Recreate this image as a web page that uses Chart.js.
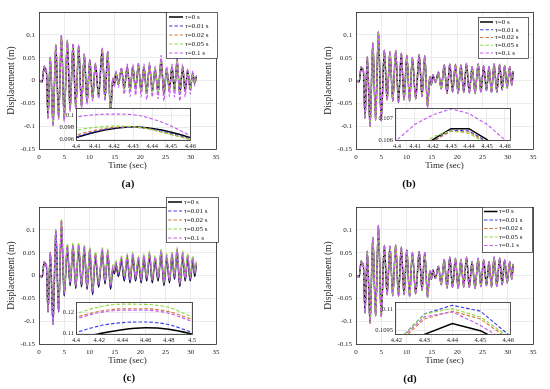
<!DOCTYPE html>
<html><head><meta charset="utf-8">
<script src="https://cdn.jsdelivr.net/npm/chart.js@4.4.1/dist/chart.umd.min.js"></script>
<style>
html,body{margin:0;padding:0;background:#fff;}
body{width:550px;height:389px;position:relative;overflow:hidden;font-family:"Liberation Serif",serif;}
canvas{position:absolute;}
.cap{position:absolute;font-weight:bold;font-size:11px;color:#111;transform:translate(-50%,-50%);white-space:nowrap;}
</style></head>
<body>
<script>
// ---------- DATA ----------
const tMain = [0,0.6,1.05,1.3,1.45,1.78,2.23,2.78,3.33,3.88,4.43,4.98,5.6,6.15,6.72,7.27,7.85,8.4,8.95,9.5,10.05,10.6,11.15,11.8,12.5,13.05,13.6,14.15,14.6,14.9,15.2,15.7,16.3,16.85,17.45,18.0,18.55,19.1,19.65,20.2,20.75,21.3,21.85,22.4,22.95,23.55,24.15,24.7,25.25,25.8,26.3,26.8,27.3,27.85,28.4,28.9,29.4,29.9,30.4,30.8,31.1];

// panel (a)
const a_tau0 = [0,-0.003,0.031,0.019,0.025,-0.082,0.051,-0.098,0.078,-0.082,0.098,-0.085,0.086,-0.064,0.079,-0.06,0.076,-0.058,0.057,-0.048,0.045,-0.04,0.036,-0.034,0.069,-0.04,0.063,-0.072,0.004,-0.01,0.018,-0.008,0.026,-0.018,0.03,-0.022,0.03,-0.02,0.034,-0.024,0.03,-0.028,0.034,-0.024,0.026,-0.026,0.046,-0.03,0.026,-0.02,0.03,-0.022,0.044,-0.03,0.03,-0.024,0.022,-0.02,0.016,-0.006,0.008];
const a_tau001 = a_tau0;
const a_tau002 = a_tau0;
const a_tau005 = a_tau0;
const a_tau01 = [0,-0.003,0.031,0.019,0.025,-0.084,0.051,-0.1,0.079,-0.085,0.1002,-0.09,0.089,-0.068,0.081,-0.063,0.078,-0.062,0.059,-0.052,0.047,-0.045,0.038,-0.04,0.071,-0.045,0.065,-0.08,0.006,-0.015,0.022,-0.015,0.029,-0.03,0.036,-0.035,0.036,-0.032,0.04,-0.036,0.036,-0.042,0.04,-0.036,0.031,-0.04,0.055,-0.045,0.031,-0.035,0.036,-0.036,0.052,-0.045,0.036,-0.036,0.026,-0.03,0.021,-0.012,0.012];

// panel (b)
const b_tau0 = [0,-0.003,0.03,0.02,0.025,-0.083,0.052,-0.1,0.082,-0.086,0.1065,-0.088,0.066,-0.042,0.063,-0.045,0.065,-0.048,0.06,-0.042,0.055,-0.045,0.05,-0.04,0.056,-0.035,0.054,-0.058,0.008,-0.01,0.012,-0.004,0.018,-0.018,0.034,-0.028,0.036,-0.025,0.035,-0.028,0.034,-0.026,0.037,-0.027,0.03,-0.028,0.036,-0.025,0.032,-0.022,0.03,-0.026,0.036,-0.025,0.035,-0.02,0.032,-0.016,0.03,-0.01,0.02];
const b_tau001 = b_tau0;
const b_tau002 = b_tau0;
const b_tau005 = b_tau0;
const b_tau01 = [0,-0.003,0.03,0.02,0.025,-0.084,0.052,-0.101,0.083,-0.087,0.1074,-0.089,0.067,-0.043,0.064,-0.046,0.066,-0.049,0.061,-0.043,0.056,-0.046,0.051,-0.041,0.057,-0.036,0.055,-0.059,0.009,-0.011,0.013,-0.005,0.019,-0.019,0.035,-0.029,0.037,-0.026,0.036,-0.029,0.035,-0.027,0.038,-0.028,0.031,-0.029,0.037,-0.026,0.033,-0.023,0.031,-0.027,0.037,-0.026,0.036,-0.021,0.033,-0.017,0.031,-0.011,0.021];

// panel (c)
const c_tau0 = [0,-0.003,0.03,0.02,0.025,-0.08,0.05,-0.107,0.097,-0.08,0.112,-0.045,0.06,-0.022,0.062,-0.028,0.062,-0.025,0.058,-0.03,0.052,-0.042,0.042,-0.025,0.052,-0.018,0.048,-0.03,0.014,0.004,0.024,-0.002,0.033,-0.012,0.038,-0.016,0.042,-0.012,0.034,-0.016,0.038,-0.012,0.043,-0.016,0.034,-0.012,0.048,-0.022,0.038,-0.016,0.043,-0.008,0.052,-0.024,0.044,-0.012,0.038,-0.012,0.033,-0.002,0.024];
const c_tau001 = [0,-0.003,0.03,0.02,0.025,-0.08,0.05,-0.107,0.098,-0.079,0.1155,-0.042,0.063,-0.019,0.065,-0.025,0.065,-0.022,0.061,-0.027,0.055,-0.039,0.045,-0.022,0.055,-0.015,0.051,-0.027,0.017,0.007,0.027,0.001,0.036,-0.009,0.041,-0.013,0.045,-0.009,0.037,-0.013,0.041,-0.009,0.046,-0.013,0.037,-0.009,0.051,-0.019,0.041,-0.013,0.046,-0.005,0.055,-0.021,0.047,-0.009,0.041,-0.009,0.036,0.001,0.027];
const c_tau002 = [0,-0.003,0.031,0.02,0.026,-0.079,0.051,-0.106,0.1,-0.077,0.1215,-0.038,0.067,-0.015,0.069,-0.021,0.069,-0.018,0.065,-0.023,0.059,-0.035,0.049,-0.018,0.059,-0.011,0.055,-0.023,0.021,0.011,0.031,0.005,0.04,-0.005,0.045,-0.009,0.049,-0.005,0.041,-0.009,0.045,-0.005,0.05,-0.009,0.041,-0.005,0.055,-0.015,0.045,-0.009,0.05,-0.001,0.059,-0.017,0.051,-0.005,0.045,-0.005,0.04,0.005,0.031];
const c_tau005 = [0,-0.003,0.031,0.02,0.026,-0.078,0.052,-0.105,0.101,-0.076,0.1241,-0.035,0.07,-0.012,0.072,-0.018,0.072,-0.015,0.068,-0.02,0.062,-0.032,0.052,-0.015,0.062,-0.008,0.058,-0.02,0.024,0.014,0.034,0.008,0.043,-0.002,0.048,-0.006,0.052,-0.002,0.044,-0.006,0.048,-0.002,0.053,-0.006,0.044,-0.002,0.058,-0.012,0.048,-0.006,0.053,0.002,0.062,-0.014,0.054,-0.002,0.048,-0.002,0.043,0.008,0.034];
const c_tau01 = [0,-0.003,0.031,0.02,0.026,-0.079,0.051,-0.106,0.1,-0.078,0.1208,-0.039,0.066,-0.016,0.068,-0.022,0.068,-0.019,0.064,-0.024,0.058,-0.036,0.048,-0.019,0.058,-0.012,0.054,-0.024,0.02,0.01,0.03,0.004,0.039,-0.006,0.044,-0.01,0.048,-0.006,0.04,-0.01,0.044,-0.006,0.049,-0.01,0.04,-0.006,0.054,-0.016,0.044,-0.01,0.049,-0.002,0.058,-0.018,0.05,-0.006,0.044,-0.006,0.039,0.004,0.03];

// panel (d)
const d_tau0 = [0,-0.003,0.032,0.021,0.026,-0.082,0.053,-0.104,0.083,-0.088,0.1097,-0.09,0.066,-0.042,0.064,-0.044,0.066,-0.045,0.062,-0.042,0.056,-0.046,0.05,-0.04,0.052,-0.032,0.05,-0.048,0.01,-0.008,0.012,-0.006,0.02,-0.02,0.035,-0.027,0.04,-0.026,0.037,-0.028,0.035,-0.025,0.04,-0.026,0.03,-0.028,0.037,-0.024,0.034,-0.022,0.03,-0.025,0.04,-0.024,0.038,-0.02,0.034,-0.016,0.03,-0.008,0.025];
const d_tau001 = d_tau0;
const d_tau002 = d_tau0;
const d_tau005 = d_tau0;
const d_tau01 = [0,-0.003,0.032,0.021,0.026,-0.083,0.053,-0.105,0.084,-0.089,0.11,-0.091,0.067,-0.043,0.065,-0.045,0.067,-0.046,0.063,-0.043,0.057,-0.047,0.051,-0.041,0.053,-0.033,0.051,-0.049,0.011,-0.009,0.013,-0.007,0.021,-0.021,0.036,-0.028,0.041,-0.027,0.038,-0.029,0.036,-0.026,0.041,-0.027,0.031,-0.029,0.038,-0.025,0.035,-0.023,0.031,-0.026,0.041,-0.025,0.039,-0.021,0.035,-0.017,0.031,-0.009,0.026];

// insets
const iA_t = [4.39,4.4,4.41,4.42,4.43,4.44,4.45,4.46,4.47];
const iA_tau0   = [0.0952,0.0963,0.0972,0.0978,0.0981,0.0978,0.0972,0.0963,0.0951];
const iA_tau001 = [0.0953,0.0964,0.0973,0.0979,0.0980,0.0977,0.0970,0.0961,0.0949];
const iA_tau002 = [0.0956,0.0967,0.0975,0.0980,0.0981,0.0976,0.0968,0.0960,0.0947];
const iA_tau005 = [0.0966,0.0975,0.0980,0.0982,0.0981,0.0976,0.0968,0.0959,0.0946];
const iA_tau01  = [0.0990,0.0997,0.1001,0.1002,0.1001,0.0994,0.0982,0.0966,0.0948];

const iB_t = [4.39,4.4,4.41,4.42,4.43,4.44,4.45,4.46,4.47];
const iB_tau0   = [0.1040,0.1047,0.1053,0.10602,0.10652,0.10652,0.10602,0.1052,0.1043];
const iB_tau001 = [0.1040,0.1046,0.1052,0.10595,0.10645,0.10642,0.10592,0.1051,0.1042];
const iB_tau002 = [0.1040,0.1046,0.1052,0.10594,0.10640,0.10637,0.10588,0.1050,0.1041];
const iB_tau005 = [0.1041,0.1048,0.1055,0.10615,0.10642,0.10630,0.10584,0.1050,0.1041];
const iB_tau01  = [0.1051,0.1060,0.10672,0.10715,0.10743,0.10721,0.10672,0.1060,0.1051];

const iC_t = [4.38,4.4,4.42,4.44,4.46,4.48,4.5,4.52];
const iC_tau0   = [0.1045,0.1075,0.1098,0.1118,0.1127,0.1120,0.1097,0.1065];
const iC_tau001 = [0.1068,0.1104,0.1136,0.1152,0.1155,0.1142,0.1105,0.1068];
const iC_tau002 = [0.1145,0.1178,0.1206,0.1219,0.1219,0.1205,0.1168,0.1128];
const iC_tau005 = [0.1160,0.1195,0.1228,0.1241,0.1240,0.1225,0.1180,0.1140];
const iC_tau01  = [0.1138,0.1170,0.1200,0.1212,0.1212,0.1197,0.1158,0.1118];

const iD_t = [4.41,4.42,4.43,4.44,4.45,4.46,4.47];
const iD_tau0   = [0.1085,0.10915,0.10940,0.10966,0.10949,0.10915,0.1085];
const iD_tau001 = [0.1086,0.1092,0.10989,0.11010,0.10996,0.10940,0.1088];
const iD_tau002 = [0.1085,0.10915,0.10977,0.10996,0.10977,0.10930,0.1086];
const iD_tau005 = [0.1086,0.1092,0.10989,0.11002,0.10982,0.10935,0.1087];
const iD_tau01  = [0.1085,0.1092,0.10982,0.10994,0.10962,0.10920,0.1085];

const legendLabels = ['τ=0 s','τ=0.01 s','τ=0.02 s','τ=0.05 s','τ=0.1 s'];
const mainYTicks = [-0.15,-0.1,-0.05,0,0.05,0.1];
const mainXTicks = [0,5,10,15,20,25,30,35];

// ---------- STYLE ----------
const FONT = '"Liberation Serif", "Times New Roman", serif';
const TXT = '#262626';
const GRID = '#e2e2e2';
const STY = [
  {color:'#000000', dash:[], width:1.5},
  {color:'#3c3ce6', dash:[3.5,2], width:1.15},
  {color:'#d67a3e', dash:[3.5,2], width:1.15},
  {color:'#8fdc45', dash:[3.5,2], width:1.15},
  {color:'#c35ef0', dash:[3.5,2], width:1.15}
];
Chart.defaults.font.family = FONT;

function fmt(v){ const s = +(+v).toFixed(5); return String(s === 0 ? 0 : s); }

function makeCanvas(x,y,w,h){
  const c = document.createElement('canvas');
  c.width = w; c.height = h;
  c.style.left = x+'px'; c.style.top = y+'px';
  c.style.width = w+'px'; c.style.height = h+'px';
  document.body.appendChild(c);
  return c;
}

const framePlugin = {id:'frame', afterDatasetsDraw(c){
  const {ctx, chartArea:a} = c;
  ctx.save(); ctx.strokeStyle = '#262626'; ctx.lineWidth = 0.8; ctx.setLineDash([]);
  ctx.strokeRect(Math.round(a.left)+0.5, Math.round(a.top)+0.5, Math.round(a.right-a.left), Math.round(a.bottom-a.top));
  ctx.restore();
}};
const whitePlugin = {id:'white', beforeDraw(c){
  const {ctx, chartArea:a} = c;
  ctx.save(); ctx.fillStyle = '#fff'; ctx.fillRect(a.left, a.top, a.right-a.left, a.bottom-a.top); ctx.restore();
}};
function legendPlugin(g){ return {id:'lg', afterDraw(c){
  const ctx = c.ctx;
  ctx.save();
  ctx.fillStyle = '#fff'; ctx.fillRect(g.x, g.y, g.w, g.h);
  ctx.strokeStyle = '#262626'; ctx.lineWidth = 0.7; ctx.setLineDash([]);
  ctx.strokeRect(g.x+0.5, g.y+0.5, g.w, g.h);
  legendLabels.forEach((lab,i)=>{
    const y = g.y0 + i*g.dy;
    ctx.beginPath(); ctx.setLineDash(STY[i].dash); ctx.strokeStyle = STY[i].color; ctx.lineWidth = STY[i].width;
    ctx.moveTo(g.l0, y); ctx.lineTo(g.l1, y); ctx.stroke();
    ctx.setLineDash([]);
    ctx.fillStyle = '#111'; ctx.font = '7px '+FONT; ctx.textBaseline = 'middle'; ctx.textAlign = 'left';
    ctx.fillText(lab, g.tx, y);
  });
  ctx.restore();
}}; }

function datasets(t, arrs, smooth){
  return arrs.map((arr,i)=>({
    label: legendLabels[i],
    data: t.map((x,k)=>({x:x, y:arr[k]})),
    borderColor: STY[i].color, borderWidth: STY[i].width, borderDash: STY[i].dash,
    pointRadius: 0, fill: false, order: 4-i,
    tension: 0, cubicInterpolationMode: smooth ? 'monotone' : 'default'
  }));
}

function mainChart(p){
  const W = 275, H = 195, T = 12, B = 149, XH = 22;
  const cv = makeCanvas(p.x, p.y, W, H);
  new Chart(cv, {
    type:'line',
    data:{datasets: datasets(tMain, p.vals, true)},
    options:{
      responsive:false, animation:false, events:[],
      layout:{padding:{left:p.padL, right:W-p.r, top:T, bottom:H-B-XH}},
      plugins:{legend:{display:false}, tooltip:{enabled:false}},
      scales:{
        x:{type:'linear', min:0, max:35,
           afterFit:s=>{s.height = XH;},
           afterBuildTicks:s=>{s.ticks = mainXTicks.map(v=>({value:v}));},
           ticks:{font:{size:7, family:FONT}, color:TXT, padding:4, maxRotation:0, autoSkip:false, callback:fmt},
           grid:{color:GRID, lineWidth:0.7, drawTicks:false},
           border:{display:false},
           title:{display:true, text:'Time (sec)', color:TXT, font:{size:9, family:FONT}, padding:{top:0,bottom:0}}},
        y:{type:'linear', min:-0.15, max:0.15,
           afterFit:s=>{s.width = p.l - p.padL;},
           afterBuildTicks:s=>{s.ticks = mainYTicks.concat([0.15]).map(v=>({value:v}));},
           ticks:{font:{size:7, family:FONT}, color:TXT, padding:4, autoSkip:false, callback:v=> (Math.abs(v-0.15)<1e-9 ? '' : fmt(v))},
           grid:{color:GRID, lineWidth:0.7, drawTicks:false},
           border:{display:false},
           title:{display:true, text:'Displacement (m)', color:TXT, font:{size:9.5, family:FONT}, padding:{top:6,bottom:0}}}
      }
    },
    plugins:[framePlugin, legendPlugin(p.legend)]
  });
}

function insetChart(p){
  const padL = 32, padT = 4, padR = 6, padB = 12;
  const f = p.frame;
  const W = f.r - f.l + padL + padR, H = f.b - f.t + padT + padB;
  const cv = makeCanvas(f.l - padL, f.t - padT, W, H);
  new Chart(cv, {
    type:'line',
    data:{datasets: datasets(p.t, p.vals, p.smooth)},
    options:{
      responsive:false, animation:false, events:[],
      layout:{padding:{left:0, right:padR, top:padT, bottom:0}},
      plugins:{legend:{display:false}, tooltip:{enabled:false}},
      scales:{
        x:{type:'linear', min:p.xmin, max:p.xmax,
           afterFit:s=>{s.height = padB;},
           ticks:{stepSize:p.xstep, includeBounds:false, font:{size:6.5, family:FONT}, color:TXT, padding:2, maxRotation:0, autoSkip:false, callback:fmt},
           grid:{color:GRID, lineWidth:0.7, drawTicks:false},
           border:{display:false}},
        y:{type:'linear', min:p.ymin, max:p.ymax,
           afterFit:s=>{s.width = padL;},
           ticks:{stepSize:p.ystep, includeBounds:false, font:{size:6.5, family:FONT}, color:TXT, padding:2, autoSkip:false, callback:fmt},
           grid:{color:GRID, lineWidth:0.7, drawTicks:false},
           border:{display:false}}
      }
    },
    plugins:[whitePlugin, framePlugin]
  });
}

function caption(txt, x, y){
  const d = document.createElement('div');
  d.className = 'cap'; d.textContent = txt;
  d.style.left = x+'px'; d.style.top = y+'px';
  document.body.appendChild(d);
}

// ---------- BUILD ----------
mainChart({x:0, y:0, padL:0, l:39, r:216,
  vals:[a_tau0,a_tau001,a_tau002,a_tau005,a_tau01],
  legend:{x:166, y:12, w:51, h:46, y0:17, dy:9, l0:169, l1:183, tx:185}});
mainChart({x:275, y:0, padL:42, l:81, r:258,
  vals:[b_tau0,b_tau001,b_tau002,b_tau005,b_tau01],
  legend:{x:203, y:17, w:50, h:41, y0:22, dy:7.75, l0:205, l1:218, tx:220}});
mainChart({x:0, y:195, padL:0, l:39, r:216,
  vals:[c_tau0,c_tau001,c_tau002,c_tau005,c_tau01],
  legend:{x:166, y:2, w:52, h:45, y0:7, dy:9, l0:168, l1:182, tx:184}});
mainChart({x:275, y:195, padL:42, l:81, r:258,
  vals:[d_tau0,d_tau001,d_tau002,d_tau005,d_tau01],
  legend:{x:207, y:12, w:50, h:45, y0:16.5, dy:8.5, l0:209, l1:222.5, tx:224}});

insetChart({frame:{l:76,t:106,r:192,b:140}, t:iA_t, smooth:true,
  vals:[iA_tau0,iA_tau001,iA_tau002,iA_tau005,iA_tau01],
  xmin:4.4, xmax:4.46, xstep:0.01, ymin:0.0959, ymax:0.10123, ystep:0.002});
insetChart({frame:{l:395,t:106,r:510,b:140}, t:iB_t, smooth:false,
  vals:[iB_tau0,iB_tau001,iB_tau002,iB_tau005,iB_tau01],
  xmin:4.3989, xmax:4.4628, xstep:0.01, ymin:0.106, ymax:0.10747, ystep:0.001});
insetChart({frame:{l:76,t:300,r:192,b:334}, t:iC_t, smooth:true,
  vals:[iC_tau0,iC_tau001,iC_tau002,iC_tau005,iC_tau01],
  xmin:4.4, xmax:4.5, xstep:0.02, ymin:0.1097, ymax:0.1252, ystep:0.01});
insetChart({frame:{l:395,t:300,r:510,b:334}, t:iD_t, smooth:false,
  vals:[iD_tau0,iD_tau001,iD_tau002,iD_tau005,iD_tau01],
  xmin:4.4195, xmax:4.4605, xstep:0.01, ymin:0.10941, ymax:0.11018, ystep:0.0005});

caption('(a)', 128, 183);
caption('(b)', 409, 183);
caption('(c)', 129, 377);
caption('(d)', 410, 378);
</script>
</body></html>
